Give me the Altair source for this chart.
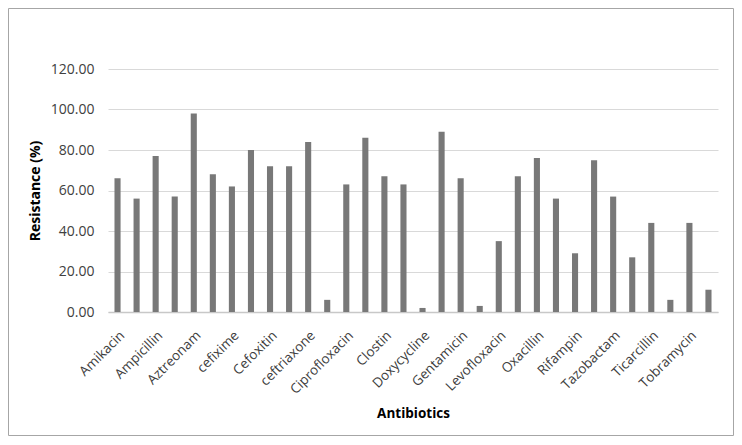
import altair as alt
import pandas as pd

labels = ["Amikacin", "Ampicillin", "Aztreonam", "cefixime", "Cefoxitin",
          "ceftriaxone", "Ciprofloxacin", "Clostin", "Doxycycline", "Gentamicin",
          "Levofloxacin", "Oxacillin", "Rifampin", "Tazobactam", "Ticarcillin",
          "Tobramycin"]
resistance = [66, 56, 77, 57, 98, 68, 62, 80, 72, 72, 84, 6, 63, 86, 67, 63,
              2, 89, 66, 3, 35, 67, 76, 56, 29, 75, 57, 27, 44, 6, 44, 11]
y_ticks = [0, 20, 40, 60, 80, 100, 120]

df = pd.DataFrame({"idx": list(range(len(resistance))), "value": resistance})

names_js = "[" + ",".join("'" + n + "'" for n in labels) + "]"
label_expr = f"datum.value % 2 == 0 ? {names_js}[floor(datum.value / 2)] : ''"

FONT = "Open Sans"
W, H = 610, 243

bars = alt.Chart(df).mark_bar(color="#787878").encode(
    x=alt.X("idx:O",
            scale=alt.Scale(paddingInner=0.68, paddingOuter=0.34),
            axis=alt.Axis(title="Antibiotics", labelExpr=label_expr,
                          labelAngle=-45, labelAlign="right", labelBaseline="top",
                          labelPadding=16, labelOffset=0, labelOverlap=False,
                          labelFontSize=13.5, labelBound=False,
                          labelFont=FONT, labelColor="#404040", ticks=False,
                          domainColor="#c8c8c8", domainWidth=1.5,
                          titleFont=FONT, titleFontSize=13.5, titleFontWeight="bold",
                          titleColor="#000000", titleX=W / 2, titleY=101,
                          titleBaseline="middle", titleAlign="center")),
    y=alt.Y("value:Q",
            scale=alt.Scale(domain=[0, 120], nice=False),
            axis=alt.Axis(title="Resistance (%)", values=y_ticks, format=".2f",
                          grid=True, gridColor="#d9d9d9", gridWidth=1.2,
                          domain=False, ticks=False, labelPadding=14,
                          labelFont=FONT, labelFontSize=14, labelColor="#404040",
                          titleFont=FONT, titleFontSize=14, titleFontWeight="bold",
                          titleColor="#000000", titleAngle=-90, titleX=-73,
                          titleY=H / 2, titleBaseline="middle", titleAlign="center")),
)

border = alt.Chart(alt.Data(values=[{"a": 1}])).mark_rect(
    fill="transparent", stroke="#a6a6a6", strokeWidth=1
).encode(
    x=alt.value(-99.5), x2=alt.value(625.5),
    y=alt.value(-60.5), y2=alt.value(366.5),
)

chart = alt.layer(bars, border).properties(
    width=W, height=H,
    autosize=alt.AutoSizeParams(type="none"),
    padding={"left": 100, "top": 61, "right": 16, "bottom": 124},
).configure_view(strokeWidth=0)

chart.save("out.html", embed_options={"renderer": "svg", "actions": False})
